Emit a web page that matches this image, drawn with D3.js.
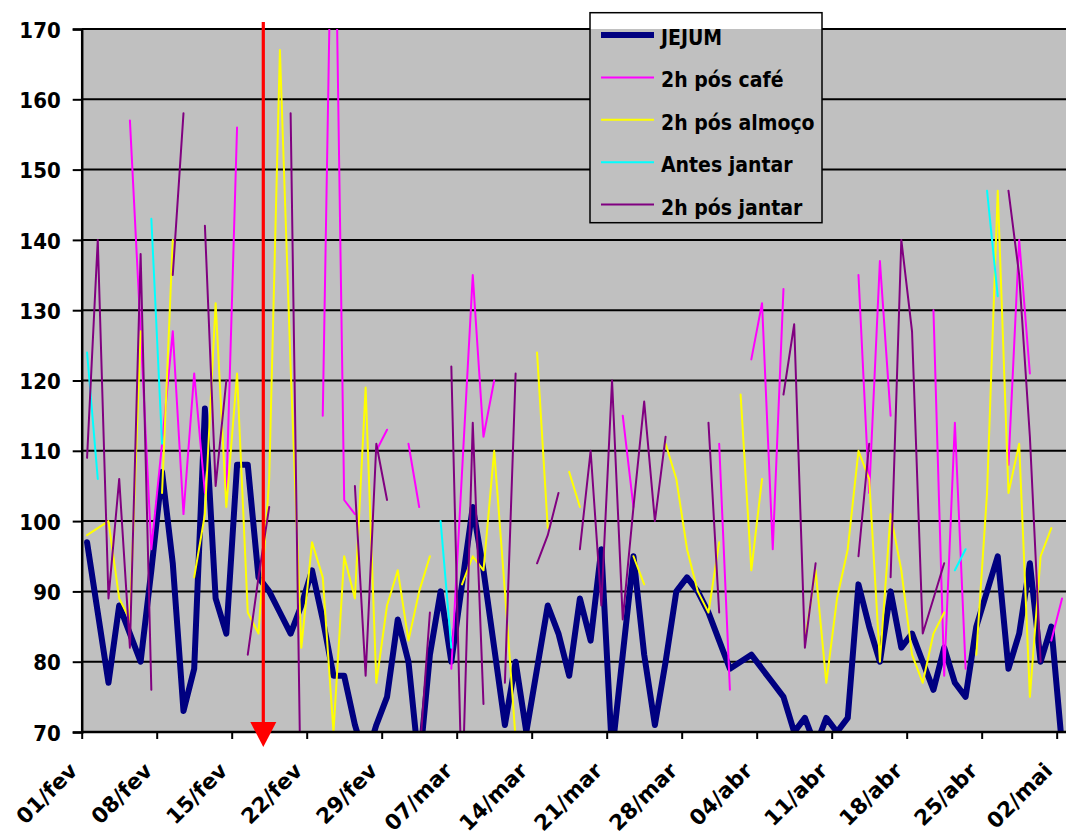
<!DOCTYPE html>
<html><head><meta charset="utf-8">
<script src="https://cdn.jsdelivr.net/npm/d3@7"></script>
<style>
html,body{margin:0;padding:0;background:#fff;overflow:hidden}
svg{display:block}
text{font-family:"DejaVu Sans Condensed","DejaVu Sans",sans-serif;font-weight:bold;font-size:21px;fill:#000}
.axislabel{font-size:22px}
.xlabel{font-family:"DejaVu Sans",sans-serif;font-size:21.5px}
</style></head><body>
<svg id="chart" width="1066" height="832"></svg>
<script>
// ---- data (one value per day, starting 01/fev) ----
const tickLabels = ["01/fev","08/fev","15/fev","22/fev","29/fev","07/mar","14/mar","21/mar","28/mar","04/abr","11/abr","18/abr","25/abr","02/mai"];
const yTicks = [70,80,90,100,110,120,130,140,150,160,170];
const seriesNames = ["JEJUM","2h pós café","2h pós almoço","Antes jantar","2h pós jantar"];
const seriesColors = ["#000080","#ff00ff","#ffff00","#00ffff","#800080"];

const jejum = [97,87,77,88,84,80,93,107,94,73,79,116,89,84,108,108,92,90,87,84,
  88,93,86,78,78,71,66,71,75,86,80,65,81,90,80,91,102,93,82,71,
  80,70,79,88,84,78,89,83,96,67,81,95,81,71,80,90,92,90,87,83,
  79,80,81,79,77,75,70,72,68,72,70,72,91,85,80,90,82,84,80,76,
  82,77,75,85,90,95,79,84,94,80,85,68,null];

const posCafe = [null,null,null,null,157,127,96,111,127,101,121,104,null,104,156,null,null,null,null,null,
  null,null,115,205,103,101,null,110,113,null,111,102,null,null,79,107,135,112,120,null,
  null,null,null,null,null,null,null,null,null,null,115,102,null,null,null,null,null,null,null,111,
  76,null,123,131,96,133,null,null,null,null,null,null,135,104,137,115,null,null,null,130,
  78,114,79,null,null,null,108,140,121,null,83,89,null];

const posAlmoco = [98,99,100,89,86,127,null,104,140,null,92,101,131,102,121,87,84,106,167,122,
  82,97,92,70,95,89,119,77,88,93,83,90,95,null,null,91,95,93,110,90,
  69,null,124,99,null,107,102,null,null,null,null,95,91,null,111,106,96,90,87,97,
  null,118,93,106,null,null,null,83,93,77,89,96,110,106,80,101,93,81,77,84,
  87,null,null,81,104,147,104,111,75,95,99,null,null];

const antesJantar = [124,106,null,null,null,null,143,111,null,null,null,null,null,null,null,null,null,null,null,null,
  null,null,null,null,null,null,null,null,null,null,null,null,null,100,82,null,null,null,null,null,
  null,null,null,null,null,null,null,null,null,null,null,null,null,null,null,null,null,null,null,null,
  null,null,null,null,null,null,null,null,null,null,null,null,null,null,null,null,null,null,null,null,
  null,93,96,null,147,132,null,null,null,null,null,null,null];

const posJantar = [109,140,89,106,82,138,76,null,135,158,null,142,105,120,null,81,92,102,null,158,
  55,null,null,null,null,105,78,111,103,null,null,66,87,null,122,60,114,74,null,77,
  121,null,94,98,104,null,96,110,88,120,86,102,117,100,112,null,null,null,114,87,
  null,null,null,null,null,118,128,82,94,null,null,null,95,111,null,92,140,127,84,89,
  94,null,null,null,null,null,147,135,112,80,null,null,null];

const allSeries = [jejum, posCafe, posAlmoco, antesJantar, posJantar];
const arrowPos = 16.95; // position of the red marker on the day axis

(function () {
// ---- layout ----
const W = 1066, H = 832;
const pL = 81.7, dayW = 10.714, nDays = 94, pT = 29, pB = 732;
const pR = pL + nDays * dayW;

const svg = d3.select("#chart");
const x = d3.scaleLinear().domain([0, nDays]).range([pL, pR]);
const y = d3.scaleLinear().domain([70, 170]).range([pB, pT]);

// plot background
svg.append("rect").attr("x", pL).attr("y", pT).attr("width", pR - pL).attr("height", pB - pT).attr("fill", "#c0c0c0");

// gridlines
svg.append("g").selectAll("line").data(yTicks.filter(v => v > 70)).join("line")
  .attr("x1", pL).attr("x2", pR)
  .attr("y1", d => y(d)).attr("y2", d => y(d))
  .attr("stroke", "#000").attr("stroke-width", 2);

// clip
svg.append("defs").append("clipPath").attr("id", "plotclip")
  .append("rect").attr("x", pL).attr("y", pT).attr("width", pR - pL).attr("height", pB - pT);

const lineGen = d3.line()
  .defined(d => d.v != null)
  .x(d => x(d.i + 0.5))
  .y(d => y(d.v));

const widths = [6, 2, 2, 2, 2];
const gLines = svg.append("g").attr("clip-path", "url(#plotclip)");
allSeries.forEach((s, k) => {
  gLines.append("path")
    .datum(s.map((v, i) => ({i, v})))
    .attr("d", lineGen)
    .attr("fill", "none")
    .attr("stroke", seriesColors[k])
    .attr("stroke-width", widths[k])
    .attr("stroke-linejoin", "round")
    .attr("stroke-linecap", "round");
});

// axes
const yAxis = d3.axisLeft(y).tickValues(yTicks).tickSize(9).tickPadding(12).tickFormat(d3.format("d"));
const gy = svg.append("g").attr("transform", `translate(${pL},0)`).call(yAxis);
gy.attr("font-size", null).attr("font-family", null);
gy.select(".domain").attr("stroke", "#000").attr("stroke-width", 2.5);
gy.selectAll(".tick line").attr("stroke", "#000").attr("stroke-width", 2);
gy.selectAll(".tick text").attr("class", "axislabel").attr("dy", "0.37em");

const xTickVals = tickLabels.map((_, k) => 7 * k);
const xAxis = d3.axisBottom(x).tickValues(xTickVals).tickSize(7).tickFormat(() => "");
const gx = svg.append("g").attr("transform", `translate(0,${pB})`).call(xAxis);
gx.select(".domain").attr("stroke", "#000").attr("stroke-width", 2.5).attr("d", `M${pL},0H${W + 40}`);
gx.selectAll(".tick line").attr("stroke", "#000").attr("stroke-width", 2);

svg.append("g").selectAll("text").data(tickLabels).join("text")
  .attr("class", "xlabel")
  .attr("transform", (d, k) => `translate(${x(7 * k) - 3},${pB + 40}) rotate(-45)`)
  .attr("text-anchor", "end")
  .text(d => d);

// red arrow
const ax = x(arrowPos);
svg.append("line").attr("x1", ax).attr("x2", ax).attr("y1", 22).attr("y2", 724)
  .attr("stroke", "#ff0000").attr("stroke-width", 3.2);
svg.append("path").attr("d", `M${ax - 13},${722}L${ax + 13},${722}L${ax},${747}Z`).attr("fill", "#ff0000");

// legend
const lg = svg.append("g");
const lx = 590, ly = 12.7, lw = 232, lh = 210;
lg.append("rect").attr("x", lx).attr("y", ly).attr("width", lw).attr("height", pT - ly).attr("fill", "#fff");
lg.append("rect").attr("x", lx).attr("y", pT).attr("width", lw).attr("height", ly + lh - pT).attr("fill", "#c0c0c0");
lg.append("rect").attr("x", lx).attr("y", ly).attr("width", lw).attr("height", lh)
  .attr("fill", "none").attr("stroke", "#000").attr("stroke-width", 1.5);
seriesNames.forEach((name, k) => {
  const yy = 35 + k * 42.4;
  lg.append("line").attr("x1", 601).attr("x2", 654).attr("y1", yy).attr("y2", yy)
    .attr("stroke", seriesColors[k]).attr("stroke-width", k === 0 ? 6 : 2);
  lg.append("text").attr("x", 661).attr("y", yy + 10).text(name);
});
})();
</script>
</body></html>
